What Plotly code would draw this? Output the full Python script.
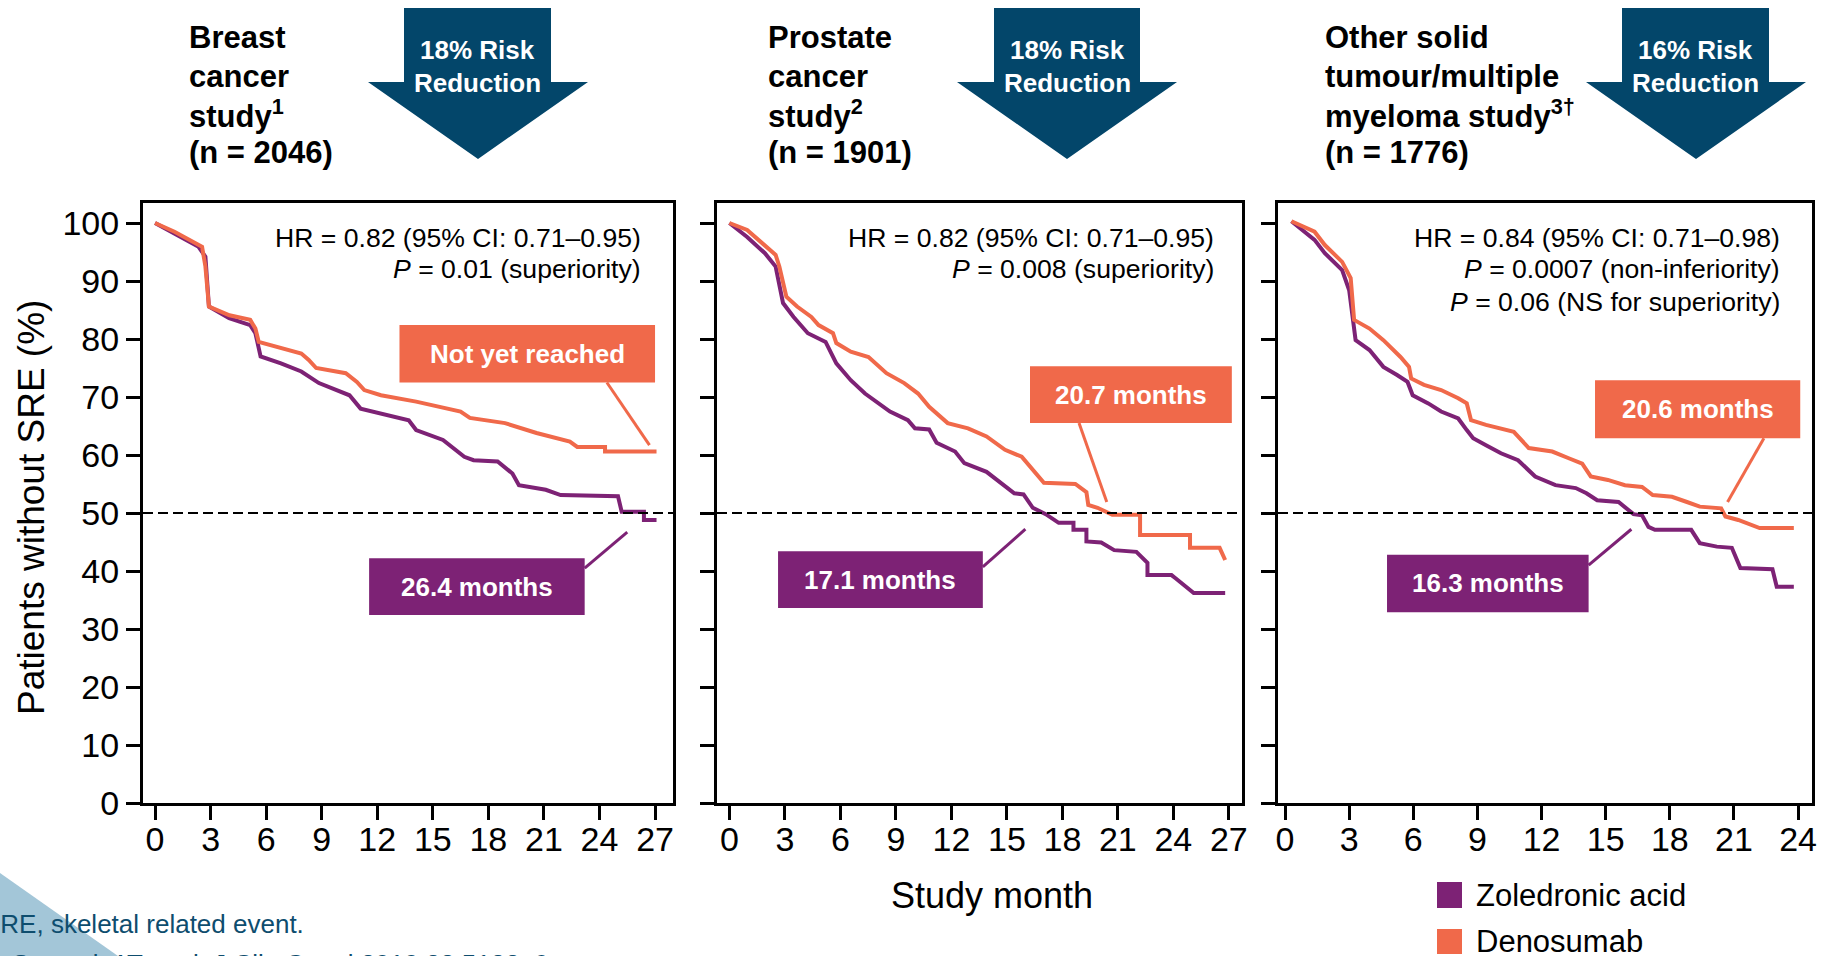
import plotly.graph_objects as go

W, H = 1827, 956

# ---------------- data ----------------
month_ticks_27 = [0, 3, 6, 9, 12, 15, 18, 21, 24, 27]
month_ticks_24 = [0, 3, 6, 9, 12, 15, 18, 21, 24]
pct_ticks = [0, 10, 20, 30, 40, 50, 60, 70, 80, 90, 100]

# Breast cancer study: Kaplan-Meier curves (months, % without SRE)
breast_zol_t = [0, 1.05, 2.35, 2.72, 2.91, 4.0, 5.14, 5.42, 5.7, 6.8, 7.9, 8.85, 9.6, 10.5, 11.1,
                12.2, 13.7, 14.1, 15.55, 16.7, 17.2, 18.5, 19.3, 19.65, 21.1, 21.9, 25.0, 25.2,
                26.4, 26.4, 27.08]
breast_zol_s = [100, 98.2, 95.9, 94.2, 85.6, 83.6, 82.4, 81.0, 77.0, 75.8, 74.4, 72.4, 71.5, 70.3, 68.0,
                67.2, 66.0, 64.3, 62.6, 59.7, 59.1, 58.9, 56.8, 54.8, 54.0, 53.1, 52.9, 50.2,
                50.2, 48.8, 48.8]
breast_den_t = [0, 1.05, 2.54, 2.72, 2.91, 4.02, 5.14, 5.42, 5.6, 6.6, 7.9, 8.3, 8.7, 10.3, 10.9,
                11.3, 12.2, 14.1, 16.5, 17.0, 18.9, 20.6, 22.4, 22.8, 24.3, 24.3, 27.08]
breast_den_s = [100, 98.5, 95.9, 92.5, 85.6, 84.1, 83.3, 81.8, 79.5, 78.7, 77.5, 76.4, 75.0, 74.1, 72.6,
                71.2, 70.3, 69.2, 67.5, 66.4, 65.5, 63.8, 62.3, 61.4, 61.4, 60.6, 60.6]

# Prostate cancer study
prostate_zol_t = [0, 0.96, 1.92, 2.5, 2.9, 3.47, 4.24, 5.2, 5.78, 6.56, 7.33, 8.3, 8.68, 9.65, 10.03,
                  10.8, 11.2, 12.2, 12.7, 13.9, 14.7, 15.4, 15.9, 16.4, 17.1, 17.8, 18.6, 18.6, 19.3,
                  19.3, 20.1, 20.8, 22.0, 22.6, 22.6, 23.9, 24.1, 25.1, 26.8]
prostate_zol_s = [100, 97.6, 94.8, 92.5, 86.2, 83.8, 81.0, 79.5, 75.8, 72.9, 70.6, 68.3, 67.5, 66.0, 64.6,
                  64.4, 62.1, 60.6, 58.6, 57.1, 55.2, 53.4, 53.2, 50.9, 49.8, 48.3, 48.3, 47.1, 47.1,
                  45.1, 44.9, 43.6, 43.3, 41.4, 39.3, 39.3, 38.8, 36.2, 36.2]
prostate_den_t = [0, 0.96, 2.5, 2.7, 3.08, 3.66, 4.43, 4.82, 5.6, 5.78, 6.56, 7.52, 8.49, 9.45, 10.2,
                  10.8, 11.8, 12.9, 13.9, 14.9, 15.8, 16.4, 17.0, 18.7, 19.3, 19.4, 19.9, 20.7, 22.2,
                  22.2, 24.9, 24.9, 26.5, 26.8]
prostate_den_s = [100, 98.8, 94.5, 92.5, 87.3, 85.6, 83.8, 82.4, 81.0, 79.3, 77.8, 76.9, 74.1, 72.4, 70.6,
                  68.3, 65.5, 64.6, 63.2, 60.9, 59.7, 57.4, 55.2, 55.0, 53.6, 51.4, 50.9, 49.7, 49.7,
                  46.2, 46.2, 44.0, 44.0, 41.9]

# Other solid tumour / multiple myeloma study
other_zol_t = [0.3, 1.38, 1.86, 2.67, 3.0, 3.3, 3.95, 4.6, 5.24, 5.73, 5.97, 6.7, 7.3, 8.1, 8.5, 8.8,
               9.4, 10.1, 10.9, 11.7, 12.65, 13.6, 14.1, 14.6, 15.6, 16.3, 16.7, 17.0, 17.3, 19.0,
               19.4, 20.2, 20.9, 21.3, 22.8, 23.0, 23.8]
other_zol_s = [100.3, 97.1, 94.8, 91.9, 88.4, 79.8, 78.1, 75.2, 73.8, 72.6, 70.3, 68.9, 67.5, 66.3, 64.3, 62.9,
               61.7, 60.3, 59.1, 56.3, 54.8, 54.3, 53.4, 52.2, 51.9, 49.8, 49.6, 47.6, 47.1, 47.1,
               44.8, 44.2, 44.0, 40.5, 40.3, 37.3, 37.3]
other_den_t = [0.3, 1.38, 1.86, 2.67, 3.07, 3.23, 3.95, 4.6, 5.4, 5.8, 5.9, 6.5, 7.3, 8.1, 8.5, 8.7,
               9.4, 10.7, 11.4, 12.5, 13.3, 13.9, 14.3, 15.1, 15.9, 16.7, 17.2, 18.1, 18.8, 19.4,
               20.4, 20.6, 21.2, 22.2, 23.8]
other_den_s = [100.3, 98.5, 96.2, 93.3, 90.5, 83.3, 81.8, 79.8, 76.9, 75.2, 73.2, 72.1, 71.2, 69.8, 68.9, 66.0,
               65.2, 64.0, 61.2, 60.6, 59.4, 58.5, 56.3, 55.7, 54.8, 54.5, 53.1, 52.8, 51.9, 51.1,
               50.8, 49.4, 48.8, 47.4, 47.4]

# Median labels (months, or text when not reached)
medians = {
    "breast": ("26.4 months", "Not yet reached"),
    "prostate": ("17.1 months", "20.7 months"),
    "other": ("16.3 months", "20.6 months"),
}

# ---------------- style ----------------
ORANGE = "#F0694A"
PURPLE = "#7D2275"
NAVY = "#03466A"
FOOT = "#0E4D6E"
FONT = "Liberation Sans, Arial, sans-serif"


def px(x):
    return x / W


def py(y):
    return 1 - y / H


fig = go.Figure()

panels = [
    ("x", "y", breast_zol_t, breast_zol_s, breast_den_t, breast_den_s),
    ("x2", "y2", prostate_zol_t, prostate_zol_s, prostate_den_t, prostate_den_s),
    ("x3", "y3", other_zol_t, other_zol_s, other_den_t, other_den_s),
]
for xa, ya, zt, zs, dt, ds in panels:
    fig.add_trace(go.Scatter(x=zt, y=zs, xaxis=xa, yaxis=ya, mode="lines",
                             line=dict(color=PURPLE, width=4), name="Zoledronic acid",
                             showlegend=False, hoverinfo="skip"))
    fig.add_trace(go.Scatter(x=dt, y=ds, xaxis=xa, yaxis=ya, mode="lines",
                             line=dict(color=ORANGE, width=4), name="Denosumab",
                             showlegend=False, hoverinfo="skip"))

ydom = [py(803), py(203)]
common_x = dict(showline=True, linecolor="black", linewidth=3, mirror=True,
                ticks="outside", ticklen=14, tickwidth=3, tickcolor="black",
                showgrid=False, zeroline=False, automargin=False, ticklabelstandoff=-10,
                tickfont=dict(family=FONT, size=34, color="black"))
common_y = dict(showline=True, linecolor="black", linewidth=3, mirror=True,
                ticks="outside", ticklen=14, tickwidth=3, tickcolor="black",
                showgrid=False, zeroline=False, automargin=False,
                range=[0, 103.45], domain=ydom, tickvals=pct_ticks,
                tickfont=dict(family=FONT, size=34, color="black"))

fig.update_layout(
    width=W, height=H,
    autosize=False,
    margin=dict(l=0, r=0, t=0, b=0, pad=0),
    paper_bgcolor="white", plot_bgcolor="white",
    showlegend=False,
    xaxis=dict(common_x, domain=[px(143), px(673)], range=[-0.65, 27.97],
               tickvals=month_ticks_27, anchor="y"),
    xaxis2=dict(common_x, domain=[px(717), px(1242)], range=[-0.67, 27.71],
                tickvals=month_ticks_27, anchor="y2"),
    xaxis3=dict(common_x, domain=[px(1278), px(1812)], range=[-0.33, 24.65],
                tickvals=month_ticks_24, anchor="y3"),
    yaxis=dict(common_y, anchor="x"),
    yaxis2=dict(common_y, anchor="x2", showticklabels=False),
    yaxis3=dict(common_y, anchor="x3", showticklabels=False),
)

shapes = []
annotations = []

# 50% reference lines
for xa, ya in [("x", "y"), ("x2", "y2"), ("x3", "y3")]:
    shapes.append(dict(type="line", xref=f"{xa} domain", yref=ya, x0=0, x1=1, y0=50, y1=50,
                       line=dict(color="black", width=2, dash="10px,5px")))

# Median label boxes with connectors (data coordinates of each panel)
boxes = [
    # axes, colour, box x0, x1, y0, y1, connector start, connector end, text
    ("x", "y", ORANGE, 13.2, 27.0, 72.5, 82.4, (24.4, 72.5), (26.7, 61.7), medians["breast"][1]),
    ("x", "y", PURPLE, 11.56, 23.2, 32.4, 42.2, (23.2, 40.5), (25.5, 46.7), medians["breast"][0]),
    ("x2", "y2", ORANGE, 16.25, 27.16, 65.5, 75.3, (18.9, 65.5), (20.4, 51.9), medians["prostate"][1]),
    ("x2", "y2", PURPLE, 2.63, 13.7, 33.6, 43.4, (13.7, 40.7), (16.0, 47.2), medians["prostate"][0]),
    ("x3", "y3", ORANGE, 14.5, 24.1, 62.9, 72.9, (22.4, 62.9), (20.7, 51.9), medians["other"][1]),
    ("x3", "y3", PURPLE, 4.77, 14.2, 32.9, 42.8, (14.2, 41.0), (16.2, 47.2), medians["other"][0]),
]
for xa, ya, col, x0, x1, y0, y1, c0, c1, txt in boxes:
    shapes.append(dict(type="line", xref=xa, yref=ya, x0=c0[0], y0=c0[1], x1=c1[0], y1=c1[1],
                       line=dict(color=col, width=3)))
    shapes.append(dict(type="rect", xref=xa, yref=ya, x0=x0, x1=x1, y0=y0, y1=y1,
                       fillcolor=col, line=dict(width=0)))
    annotations.append(dict(xref=xa, yref=ya, x=(x0 + x1) / 2, y=(y0 + y1) / 2, text=f"<b>{txt}</b>",
                            showarrow=False, xanchor="center", yanchor="middle",
                            font=dict(family=FONT, size=26, color="white")))

# Risk-reduction block arrows
arrows = [
    (404, 551, 368, 588, 478, "18% Risk"),
    (994, 1140, 957, 1177, 1067, "18% Risk"),
    (1622, 1769, 1586, 1806, 1696, "16% Risk"),
]
for r0, r1, w0, w1, tip, txt in arrows:
    path = (f"M {px(r0)},{py(8)} L {px(r1)},{py(8)} L {px(r1)},{py(82)} L {px(w1)},{py(82)} "
            f"L {px(tip)},{py(159)} L {px(w0)},{py(82)} L {px(r0)},{py(82)} Z")
    shapes.append(dict(type="path", xref="paper", yref="paper", path=path,
                       fillcolor=NAVY, line=dict(width=0)))
    cx = (r0 + r1) / 2
    for t, yy in [(txt, 50), ("Reduction", 83)]:
        annotations.append(dict(xref="paper", yref="paper", x=px(cx), y=py(yy), text=f"<b>{t}</b>",
                                showarrow=False, xanchor="center", yanchor="middle",
                                font=dict(family=FONT, size=26, color="white")))

# Study headers
headers = [
    (187, ["Breast", "cancer", "study<sup>1</sup>", "(n = 2046)"]),
    (766, ["Prostate", "cancer", "study<sup>2</sup>", "(n = 1901)"]),
    (1323, ["Other solid", "tumour/multiple", "myeloma study<sup>3†</sup>", "(n = 1776)"]),
]
for left, lines in headers:
    for line, yy in zip(lines, [37, 76, 114, 153]):
        annotations.append(dict(xref="paper", yref="paper", x=px(left), y=py(yy), text=f"<b>{line}</b>",
                                showarrow=False, xanchor="left", yanchor="middle",
                                font=dict(family=FONT, size=31, color="black")))

# Hazard ratio / P-value text
stats = [
    (643, ["HR = 0.82 (95% CI: 0.71–0.95)", "<i>P</i> = 0.01 (superiority)"]),
    (1216, ["HR = 0.82 (95% CI: 0.71–0.95)", "<i>P</i> = 0.008 (superiority)"]),
    (1782, ["HR = 0.84 (95% CI: 0.71–0.98)", "<i>P</i> = 0.0007 (non-inferiority)",
            "<i>P</i> = 0.06 (NS for superiority)"]),
]
for right, lines in stats:
    for line, yy in zip(lines, [238, 269, 302]):
        annotations.append(dict(xref="paper", yref="paper", x=px(right), y=py(yy), text=line,
                                showarrow=False, xanchor="right", yanchor="middle",
                                font=dict(family=FONT, size=26.6, color="black")))

# Axis titles
annotations.append(dict(xref="paper", yref="paper", x=px(31), y=py(508), text="Patients without SRE (%)",
                        textangle=-90, showarrow=False, xanchor="center", yanchor="middle",
                        font=dict(family=FONT, size=37, color="black")))
annotations.append(dict(xref="paper", yref="paper", x=px(992), y=py(895), text="Study month",
                        showarrow=False, xanchor="center", yanchor="middle",
                        font=dict(family=FONT, size=36, color="black")))

# Legend
for name, col, y0, y1, yc in [("Zoledronic acid", PURPLE, 882, 908, 895),
                               ("Denosumab", ORANGE, 929, 954, 941)]:
    shapes.append(dict(type="rect", xref="paper", yref="paper", x0=px(1437), x1=px(1462),
                       y0=py(y1), y1=py(y0), fillcolor=col, line=dict(width=0)))
    annotations.append(dict(xref="paper", yref="paper", x=px(1474), y=py(yc), text=name,
                            showarrow=False, xanchor="left", yanchor="middle",
                            font=dict(family=FONT, size=31, color="black")))

# Slide corner decoration and footnotes
shapes.append(dict(type="path", xref="paper", yref="paper",
                   path=f"M {px(0)},{py(873)} L {px(118)},{py(956)} L {px(0)},{py(956)} Z",
                   fillcolor="#A3C6D8", line=dict(width=0), layer="below"))
annotations.append(dict(xref="paper", yref="paper", x=px(-19), y=py(924),
                        text="SRE, skeletal related event.", showarrow=False,
                        xanchor="left", yanchor="middle",
                        font=dict(family=FONT, size=26, color=FOOT)))
annotations.append(dict(xref="paper", yref="paper", x=px(-19), y=py(964),
                        text="1. Stopeck AT et al. J Clin Oncol 2010;28:5132–9;", showarrow=False,
                        xanchor="left", yanchor="middle",
                        font=dict(family=FONT, size=26, color=FOOT)))

fig.update_layout(shapes=shapes, annotations=annotations)

fig.write_html("out.html")
